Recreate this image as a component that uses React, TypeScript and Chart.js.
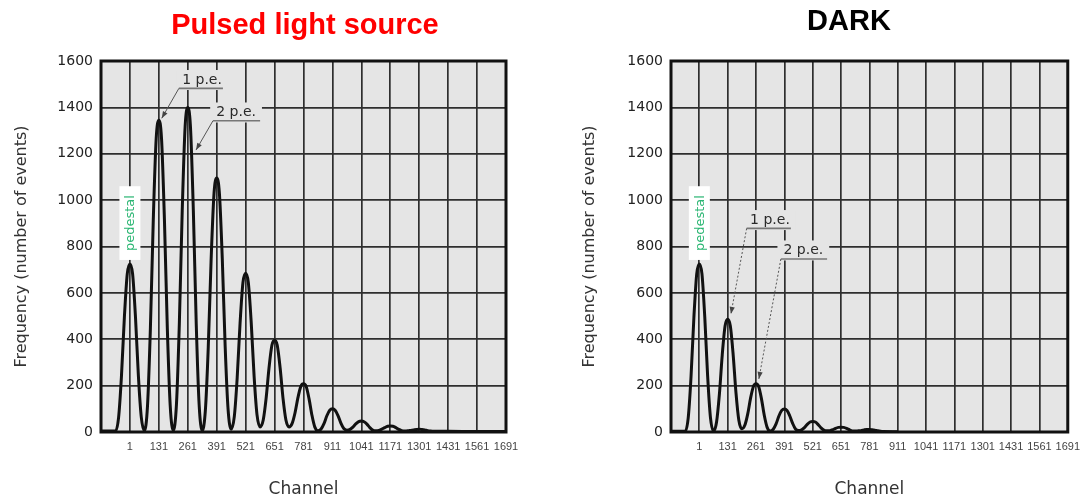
import React, { useEffect, useRef } from "react";
import { Chart, registerables } from "chart.js";

Chart.register(...registerables);

// ---------- data ----------
const channelTicks = [1, 131, 261, 391, 521, 651, 781, 911, 1041, 1171, 1301, 1431, 1561, 1691];
const channelMin = -129;
const channelMax = 1691;
const frequencyMax = 1600;
const frequencyStep = 200;

const pulsedTitle = "Pulsed light source";
const darkTitle = "DARK";

const pulsedChannels = [
  -129, -64,
  -50, -37, -24, -11, 1, 13, 26, 39, 52, 66,
  80, 93, 106, 119, 131, 143, 156, 169, 182, 196,
  210, 223, 236, 249, 261, 273, 286, 299, 312, 326,
  340, 353, 366, 379, 391, 403, 416, 429, 442, 456,
  470, 483, 496, 509, 521, 533, 546, 559, 572, 586,
  600, 613, 626, 639, 651, 663, 676, 689, 702, 716,
  730, 743, 756, 769, 781, 793, 806, 819, 832, 846,
  860, 873, 886, 899, 911, 923, 936, 949, 962, 976,
  990, 1003, 1016, 1029, 1041, 1053, 1066, 1079, 1092, 1106,
  1120, 1133, 1146, 1159, 1171, 1183, 1196, 1209, 1222, 1236,
  1250, 1263, 1276, 1289, 1301, 1313, 1326, 1339, 1352, 1366,
  1431, 1561, 1691,
];
const pulsedCounts = [
  4, 4,
  62, 242, 494, 682, 725, 682, 495, 243, 64, 6,
  113, 448, 917, 1265, 1345, 1265, 917, 449, 114, 7,
  118, 467, 954, 1316, 1400, 1316, 954, 466, 118, 6,
  93, 365, 747, 1030, 1095, 1030, 748, 369, 99, 12,
  66, 234, 470, 645, 685, 645, 473, 241, 75, 22,
  52, 145, 276, 374, 396, 374, 276, 145, 52, 22,
  37, 83, 148, 197, 208, 196, 143, 72, 21, 5,
  13, 36, 70, 94, 100, 94, 71, 38, 15, 8,
  11, 21, 35, 45, 47, 44, 34, 19, 8, 5,
  7, 12, 19, 25, 26, 25, 19, 11, 6, 4,
  5, 7, 9, 11, 12, 11, 9, 6, 4, 3,
  3, 2, 2,
];

const darkChannels = [
  -129, -64,
  -50, -37, -24, -11, 1, 13, 26, 39, 52, 66,
  80, 93, 106, 119, 131, 143, 156, 169, 182, 196,
  210, 223, 236, 249, 261, 273, 286, 299, 312, 326,
  340, 353, 366, 379, 391, 403, 416, 429, 442, 456,
  470, 483, 496, 509, 521, 533, 546, 559, 572, 586,
  600, 613, 626, 639, 651, 663, 676, 689, 702, 716,
  730, 743, 756, 769, 781, 793, 806, 819, 832, 846,
  911,
];
const darkCounts = [
  3, 3,
  61, 241, 494, 682, 725, 682, 494, 242, 62, 4,
  43, 163, 332, 457, 486, 458, 335, 170, 52, 14,
  30, 78, 146, 196, 208, 196, 143, 71, 20, 4,
  12, 35, 69, 93, 99, 93, 69, 37, 13, 6,
  9, 19, 33, 43, 45, 43, 32, 18, 8, 5,
  6, 10, 16, 20, 21, 20, 16, 10, 5, 4,
  5, 6, 9, 11, 11, 10, 8, 5, 3, 2,
  1,
];

// ---------- styling / annotation helpers ----------
const PLOT_BG = "#e5e5e5";
const GRID = "#2e2e2e";
const FONT = "'DejaVu Sans', Verdana, sans-serif";
const NARROW = "'Liberation Sans Narrow', 'Liberation Sans', Arial, sans-serif";

type PeLabel = {
  text: string;
  ch: number;
  value: number;
  lineFrom: number;
  lineTo: number;
  lineValue: number;
  arrowCh: number;
  arrowValue: number;
};

type Setup = {
  title: string;
  titleColor: string;
  titleX: number;
  titleY: number;
  yWidth: number;
  yTitlePad: number;
  padRight: number;
  leaderDash: number[];
  labels: PeLabel[];
  channels: number[];
  counts: number[];
};

function drawArrow(ctx: CanvasRenderingContext2D, x1: number, y1: number, x2: number, y2: number, dash: number[]) {
  ctx.save();
  ctx.strokeStyle = "#555";
  ctx.fillStyle = "#444";
  ctx.lineWidth = 1;
  ctx.setLineDash(dash);
  ctx.beginPath();
  ctx.moveTo(x1, y1);
  ctx.lineTo(x2, y2);
  ctx.stroke();
  ctx.setLineDash([]);
  const a = Math.atan2(y2 - y1, x2 - x1);
  const L = 7;
  const W = 2.6;
  const c = Math.cos(a);
  const s = Math.sin(a);
  ctx.beginPath();
  ctx.moveTo(x2, y2);
  ctx.lineTo(x2 - L * c + W * s, y2 - L * s - W * c);
  ctx.lineTo(x2 - L * c - W * s, y2 - L * s + W * c);
  ctx.closePath();
  ctx.fill();
  ctx.restore();
}

function makePlugin(p: Setup) {
  return {
    id: "decor",
    beforeDraw(chart: any) {
      const { ctx, chartArea: a } = chart;
      ctx.save();
      ctx.fillStyle = PLOT_BG;
      ctx.fillRect(a.left, a.top, a.right - a.left, a.bottom - a.top);
      ctx.font = "bold 29px 'Liberation Sans', Arial, sans-serif";
      ctx.fillStyle = p.titleColor;
      ctx.textAlign = "center";
      ctx.textBaseline = "alphabetic";
      ctx.fillText(p.title, p.titleX, p.titleY);
      ctx.restore();
    },
    beforeDatasetsDraw(chart: any) {
      const { ctx, chartArea: a } = chart;
      ctx.save();
      ctx.strokeStyle = "#111";
      ctx.lineWidth = 3;
      ctx.strokeRect(a.left, a.top, a.right - a.left, a.bottom - a.top);
      ctx.restore();
    },
    afterDatasetsDraw(chart: any) {
      const { ctx } = chart;
      const xs = chart.scales.x;
      const ys = chart.scales.y;
      const X = (v: number) => xs.getPixelForValue(v);
      const Y = (v: number) => ys.getPixelForValue(v);
      ctx.save();
      // pedestal label
      const px = X(1);
      const top = Y(1060);
      const bot = Y(742);
      ctx.fillStyle = "#ffffff";
      ctx.fillRect(px - 10.5, top, 21, bot - top);
      ctx.translate(px, (top + bot) / 2);
      ctx.rotate(-Math.PI / 2);
      ctx.fillStyle = "#2bb673";
      ctx.font = `13px ${FONT}`;
      ctx.textAlign = "center";
      ctx.textBaseline = "middle";
      ctx.fillText("pedestal", 0, 1);
      ctx.restore();

      // p.e. labels
      for (const l of p.labels) {
        ctx.save();
        ctx.font = `14px ${FONT}`;
        const tw = ctx.measureText(l.text).width;
        const cx = X(l.ch);
        const cy = Y(l.value);
        ctx.fillStyle = PLOT_BG;
        ctx.fillRect(cx - tw / 2 - 6, cy - 10, tw + 12, 20);
        ctx.fillStyle = "#2a2a2a";
        ctx.textAlign = "center";
        ctx.textBaseline = "middle";
        ctx.fillText(l.text, cx, cy);
        const uy = Y(l.lineValue);
        ctx.strokeStyle = "#777";
        ctx.lineWidth = 1.6;
        ctx.beginPath();
        ctx.moveTo(X(l.lineFrom), uy);
        ctx.lineTo(X(l.lineTo), uy);
        ctx.stroke();
        ctx.restore();
        drawArrow(ctx, X(l.lineFrom), uy, X(l.arrowCh), Y(l.arrowValue), p.leaderDash);
      }
    },
  };
}

function makeConfig(p: Setup): any {
  const gridOpts = { color: GRID, lineWidth: 1.7, drawTicks: false };
  return {
    type: "line",
    data: {
      datasets: [
        {
          data: p.channels.map((c, i) => ({ x: c, y: p.counts[i] })),
          borderColor: "#111",
          borderWidth: 3,
          pointRadius: 0,
          fill: false,
          cubicInterpolationMode: "monotone",
        },
      ],
    },
    options: {
      responsive: false,
      animation: false,
      events: [],
      layout: { padding: { top: 61, right: p.padRight, bottom: 1, left: 0 } },
      plugins: {
        legend: { display: false },
        tooltip: { enabled: false },
        title: { display: false },
      },
      scales: {
        x: {
          type: "linear",
          min: channelMin,
          max: channelMax,
          afterBuildTicks: (s: any) => {
            s.ticks = channelTicks.map((v) => ({ value: v }));
          },
          afterFit: (s: any) => {
            s.height = 68;
          },
          ticks: {
            autoSkip: false,
            maxRotation: 0,
            minRotation: 0,
            padding: 8,
            color: "#444",
            font: { family: NARROW, size: 11 },
            callback: (v: any) => String(v),
          },
          grid: gridOpts,
          border: { display: false },
          title: {
            display: true,
            text: "Channel",
            color: "#333",
            font: { family: FONT, size: 17 },
            padding: { top: 0, bottom: 0 },
          },
        },
        y: {
          type: "linear",
          min: 0,
          max: frequencyMax,
          afterFit: (s: any) => {
            s.width = p.yWidth;
          },
          ticks: {
            stepSize: frequencyStep,
            padding: 8,
            color: "#222",
            font: { family: FONT, size: 14 },
            callback: (v: any) => String(v),
          },
          grid: gridOpts,
          border: { display: false },
          title: {
            display: true,
            text: "Frequency (number of events)",
            color: "#333",
            font: { family: FONT, size: 16 },
            padding: { top: p.yTitlePad, bottom: 0 },
          },
        },
      },
    },
    plugins: [makePlugin(p)],
  };
}

const pulsedSetup: Setup = {
  title: pulsedTitle,
  titleColor: "#ff0000",
  titleX: 305,
  titleY: 34,
  yWidth: 101,
  yTitlePad: 12,
  padRight: 38,
  leaderDash: [],
  channels: pulsedChannels,
  counts: pulsedCounts,
  labels: [
    { text: "1 p.e.", ch: 325, value: 1518, lineFrom: 221, lineTo: 419, lineValue: 1482, arrowCh: 144, arrowValue: 1353 },
    { text: "2 p.e.", ch: 478, value: 1378, lineFrom: 374, lineTo: 586, lineValue: 1342, arrowCh: 298, arrowValue: 1216 },
  ],
};

const darkSetup: Setup = {
  title: darkTitle,
  titleColor: "#000000",
  titleX: 305,
  titleY: 30,
  yWidth: 127,
  yTitlePad: 36,
  padRight: 13,
  leaderDash: [2, 2],
  channels: darkChannels,
  counts: darkCounts,
  labels: [
    { text: "1 p.e.", ch: 325, value: 914, lineFrom: 218, lineTo: 421, lineValue: 878, arrowCh: 146, arrowValue: 509 },
    { text: "2 p.e.", ch: 478, value: 783, lineFrom: 375, lineTo: 587, lineValue: 746, arrowCh: 274, arrowValue: 229 },
  ],
};

function Panel({ setup, left }: { setup: Setup; left: number }) {
  const ref = useRef<HTMLCanvasElement | null>(null);
  useEffect(() => {
    if (!ref.current) return;
    const chart = new Chart(ref.current, makeConfig(setup));
    return () => chart.destroy();
  }, [setup]);
  return (
    <canvas
      ref={ref}
      width={544}
      height={501}
      style={{ position: "absolute", left, top: 0, width: 544, height: 501, display: "block" }}
    />
  );
}

export default function App() {
  return (
    <div style={{ position: "absolute", left: 0, top: 0, width: 1088, height: 501, background: "#ffffff", overflow: "hidden" }}>
      <Panel setup={pulsedSetup} left={0} />
      <Panel setup={darkSetup} left={544} />
    </div>
  );
}
